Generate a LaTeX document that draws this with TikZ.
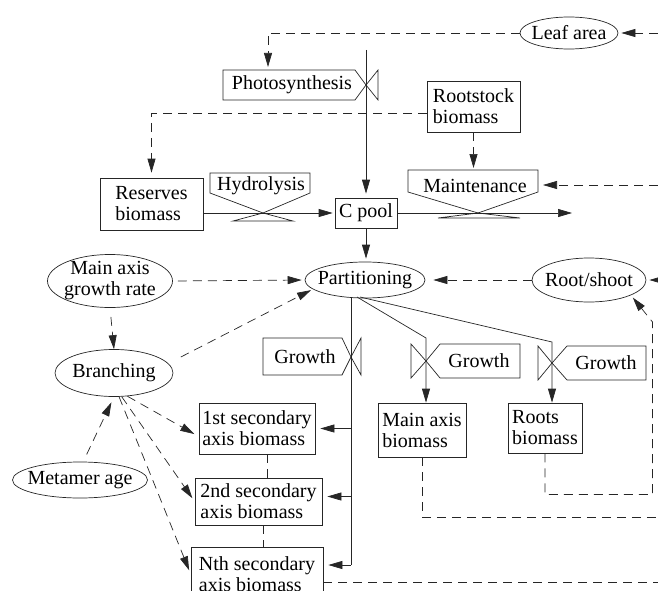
\documentclass[tikz,border=0pt]{standalone}
\usepackage{fontspec}
\setmainfont{Liberation Serif}
\usetikzlibrary{arrows.meta,shapes.geometric}
\colorlet{ink}{black!85}
\tikzset{
  fd/line/.style={ink, line width=0.7pt},
  fd/flow/.style={fd/line, -{Triangle[length=14pt,width=8pt]}},
  fd/dash/.style={fd/line, dash pattern=on 9pt off 6pt},
  fd/info/.style={fd/dash, -{Triangle[length=14pt,width=8pt]}},
  fd/lbl/.style={inner sep=0pt},
  fd/box/.style={draw=ink, line width=0.7pt, rectangle, inner sep=0pt, align=left},
  fd/aux/.style={draw=ink, line width=0.7pt, ellipse, inner sep=0pt,
    label={[fd/lbl, align=center]center:#1}},
}

\begin{document}
\begin{tikzpicture}[x=1pt, y=-1pt, font=\fontsize{20}{21}\selectfont]
  \useasboundingbox (0,0) rectangle (658,591);

  % levels
  \node[fd/box, minimum width=93pt, minimum height=51pt] (rootstock) at (473.5,106.5) {Rootstock\\biomass};
  \node[fd/box, minimum width=103pt, minimum height=52pt] (reserves) at (151.5,204) {Reserves\\biomass};
  \node[fd/box, minimum width=62pt, minimum height=30pt] (cpool) at (366,213) {C pool};
  \node[fd/box, minimum width=88pt, minimum height=54pt] (mainbio) at (422,430) {Main axis\\biomass};
  \node[fd/box, minimum width=74pt, minimum height=50pt] (rootbio) at (545,428) {Roots\\biomass};
  \node[fd/box, minimum width=116pt, minimum height=51pt] (sec1) at (257,428.5) {1st secondary\\axis biomass};
  \node[fd/box, minimum width=127pt, minimum height=47pt] (sec2) at (258.5,501.5) {2nd secondary\\axis biomass};
  \node[fd/box, minimum width=132pt, minimum height=54pt] (secN) at (257,574) {Nth secondary\\axis biomass};

  % auxiliaries
  \node[fd/aux={Leaf area}, minimum width=98pt, minimum height=32pt] (leaf) at (569,33) {};
  \node[fd/aux={Partitioning}, minimum width=120pt, minimum height=36pt] (part) at (365,280) {};
  \node[fd/aux={Root/shoot}, minimum width=114pt, minimum height=44pt] (rootshoot) at (589,280) {};
  \node[fd/aux={Main axis\\growth rate}, minimum width=125pt, minimum height=53pt] (mainrate) at (110,281) {};
  \node[fd/aux={Branching}, minimum width=118pt, minimum height=47pt] (branch) at (114,373) {};
  \node[fd/aux={Metamer age}, minimum width=135pt, minimum height=36pt] (metamer) at (80,480) {};

  % rates
  \coordinate (vPhoto) at (366,85);
  \draw[fd/line] (223,70) -- (355,70) -- (vPhoto) -- (355,100) -- (223,100) -- cycle;
  \draw[fd/line] (vPhoto) -- (378,70) -- (378,100) -- cycle;
  \node[fd/lbl] (photo) at (292,85) {Photosynthesis};

  \coordinate (vHydro) at (263,213);
  \draw[fd/line] (210,173) -- (310,173) -- (310,193) -- (vHydro) -- (210,193) -- cycle;
  \draw[fd/line] (vHydro) -- (293,221) -- (233,221) -- cycle;
  \node[fd/lbl] (hydro) at (261,186) {Hydrolysis};

  \coordinate (vMaint) at (478,213);
  \draw[fd/line] (408,170) -- (538,170) -- (538,192) -- (vMaint) -- (408,192) -- cycle;
  \draw[fd/line] (vMaint) -- (520,218) -- (438,218) -- cycle;
  \node[fd/lbl] (maint) at (475,186) {Maintenance};

  \coordinate (vG1) at (351,357);
  \draw[fd/line] (263,338) -- (342,338) -- (vG1) -- (342,375) -- (263,375) -- cycle;
  \draw[fd/line] (vG1) -- (361,338) -- (361,375) -- cycle;
  \node[fd/lbl] (grow1) at (305,357) {Growth};

  \coordinate (vG2) at (426,361);
  \draw[fd/line] (520,344) -- (440,344) -- (vG2) -- (440,378) -- (520,378) -- cycle;
  \draw[fd/line] (vG2) -- (411,344) -- (411,378) -- cycle;
  \node[fd/lbl] (grow2) at (479,361) {Growth};

  \coordinate (vG3) at (552,363);
  \draw[fd/line] (646,346) -- (567,346) -- (vG3) -- (567,380) -- (646,380) -- cycle;
  \draw[fd/line] (vG3) -- (538,346) -- (538,380) -- cycle;
  \node[fd/lbl] (grow3) at (606,363) {Growth};

  % material flows
  \coordinate (photoSrc) at (366,50);
  \coordinate (respOut) at (572,213);
  \draw[fd/flow, shorten >=4pt] (photoSrc) -- (cpool.north);
  \draw[fd/flow, shorten >=2pt] (reserves.east |- cpool.west) -- (cpool.west);
  \draw[fd/flow] (cpool.east) -- (respOut);
  \draw[fd/flow, shorten >=3pt] (cpool.south) -- (cpool.south |- part.north);

  \coordinate (pOut1) at (351,297);
  \coordinate (pOut2) at (357,297);
  \coordinate (pOut3) at (360,297);
  \coordinate (kG2) at (426,338);
  \coordinate (kG3) at (552,342);
  \coordinate (trunkEnd) at (351,565);
  \coordinate (sec2in) at ([yshift=5pt]sec2.east);
  \draw[fd/line] (pOut1) -- (trunkEnd);
  \draw[fd/flow] (pOut2) -- (kG2) -- (kG2 |- mainbio.north);
  \draw[fd/flow] (pOut3) -- (kG3) -- (kG3 |- rootbio.north);
  \draw[fd/flow, shorten >=5pt] (trunkEnd |- sec1.east) -- (sec1.east);
  \draw[fd/flow, shorten >=5pt] (sec2in -| trunkEnd) -- (sec2in);
  \draw[fd/flow, shorten >=5pt] (trunkEnd) -- (trunkEnd -| secN.east);

  % information links
  \coordinate (leafFeed) at (658,33);
  \coordinate (photoIn) at (268,70);
  \coordinate (rootLeft) at ([yshift=-6.5pt]rootstock.west);
  \coordinate (maintTop) at (473.5,170);
  \coordinate (maintFeed) at (658,185);
  \coordinate (maintSide) at (543,185);
  \draw[fd/info, shorten >=3pt] (leafFeed) -- (leaf.east);
  \draw[fd/info, shorten >=3pt] (leaf.west) -| (photoIn);
  \draw[fd/info, shorten >=5pt] (rootLeft) -| (reserves.north);
  \draw[fd/info, shorten >=2pt] (rootstock.south) -- (maintTop);
  \draw[fd/info] (maintFeed) -- (maintSide);

  \coordinate (rsFeed) at (658,280);
  \coordinate (rsLow) at (652.5,494.5);
  \coordinate (rsUp) at (652.5,322);
  \coordinate (mainOut) at (658,517.5);
  \coordinate (secNout) at ([yshift=-8pt]secN.east);
  \coordinate (edgeN) at (658,582);
  \draw[fd/info, shorten >=3pt] (rsFeed) -- (rootshoot.east);
  \draw[fd/info, shorten >=8pt] (rootshoot.west) -- (part.east);
  \draw[fd/info, shorten >=3pt] (rootbio.south) |- (rsLow) -- (rsUp) -- (rootshoot.340);
  \draw[fd/dash] (mainbio.south) |- (mainOut);
  \draw[fd/dash] (secNout) -- (edgeN);

  \draw[fd/info, shorten <=5pt, shorten >=3pt] (mainrate.east) -- (part.west);
  \draw[fd/info, shorten <=9pt] (mainrate.south) -- (branch.north);
  \draw[fd/info, shorten <=14pt, shorten >=2pt] (branch.10) -- (part.190);
  \draw[fd/info, shorten <=8pt, shorten >=6pt] (metamer.80) -- (branch.south);
  \draw[fd/info, shorten >=5pt] (branch.300) -- ([yshift=-8pt]sec1.west);
  \draw[fd/info, shorten >=4pt] (branch.288) -- (sec2.west);
  \draw[fd/info, shorten >=4pt] (branch.282) -- (secN.west);

  \coordinate (link1) at ([xshift=10pt]sec1.south);
  \coordinate (link2) at ([xshift=5pt]sec2.south);
  \draw[fd/dash] (link1) -- (link1 |- sec2.north);
  \draw[fd/dash] (link2) -- (link2 |- secN.north);
\end{tikzpicture}
\end{document}
